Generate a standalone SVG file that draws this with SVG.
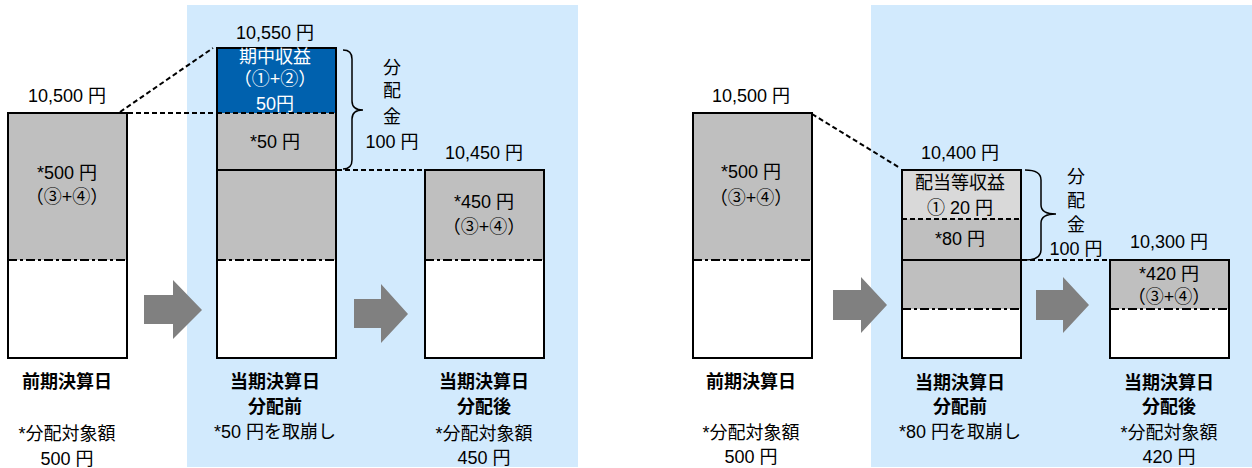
<svg xmlns="http://www.w3.org/2000/svg" width="1252" height="468" viewBox="0 0 1252 468">
<style>
text{font-family:"Liberation Sans","Noto Sans CJK JP",sans-serif;font-size:18px;fill:#000;text-anchor:middle}
.b{font-weight:bold}
.w{fill:#fff}
.ol{fill:none;stroke:#000;stroke-width:2}
.sl{stroke:#000;stroke-width:2}
.dd{stroke:#000;stroke-width:2;stroke-dasharray:9 3 3 3}
.ds{stroke:#000;stroke-width:2;stroke-dasharray:5 3;fill:none}
.gr{fill:#bfbfbf}
.lg{fill:#d9d9d9}
.bl{fill:#0061ae}
.wh{fill:#fff}
.ar{fill:#808080}
.br{fill:none;stroke:#000;stroke-width:1.5}
</style>
<rect x="187" y="5" width="391" height="462" fill="#d2eafd"/>
<rect x="871" y="5" width="381" height="462" fill="#d2eafd"/>

<g id="box1">
<rect x="8" y="113" width="119" height="147" class="gr"/>
<rect x="8" y="260" width="119" height="98" class="wh"/>
<line x1="8" y1="260" x2="127" y2="260" class="dd"/>
<rect x="8" y="113" width="119" height="245" class="ol"/>
<text x="67" y="102">10,500 円</text>
<text x="67" y="179">*500 円</text>
<text x="67" y="203">（③+④）</text>
<text x="67" y="388" class="b">前期決算日</text>
<text x="67" y="440">*分配対象額</text>
<text x="67" y="465">500 円</text>
</g>

<g id="box2">
<rect x="217" y="48" width="119" height="65" class="bl"/>
<rect x="217" y="113" width="119" height="147" class="gr"/>
<rect x="217" y="260" width="119" height="98" class="wh"/>
<line x1="217" y1="113" x2="336" y2="113" class="ds"/>
<line x1="217" y1="170" x2="336" y2="170" class="sl"/>
<line x1="217" y1="260" x2="336" y2="260" class="dd"/>
<rect x="217" y="48" width="119" height="310" class="ol"/>
<text x="275" y="39">10,550 円</text>
<text x="275" y="63" class="w">期中収益</text>
<text x="275" y="85" class="w">（①+②）</text>
<text x="275" y="110" class="w">50円</text>
<text x="275" y="148">*50 円</text>
<text x="275" y="388" class="b">当期決算日</text>
<text x="275" y="413" class="b">分配前</text>
<text x="275" y="438">*50 円を取崩し</text>
</g>

<g id="box3">
<rect x="425" y="170" width="119" height="90" class="gr"/>
<rect x="425" y="260" width="119" height="98" class="wh"/>
<line x1="425" y1="260" x2="544" y2="260" class="dd"/>
<rect x="425" y="170" width="119" height="188" class="ol"/>
<text x="484" y="159">10,450 円</text>
<text x="484" y="208">*450 円</text>
<text x="484" y="233">（③+④）</text>
<text x="484" y="388" class="b">当期決算日</text>
<text x="484" y="413" class="b">分配後</text>
<text x="484" y="440">*分配対象額</text>
<text x="484" y="464">450 円</text>
</g>

<g id="dist1">
<text x="392" y="74">分</text>
<text x="392" y="97">配</text>
<text x="392" y="123">金</text>
<text x="392" y="148">100 円</text>
</g>

<g id="box4">
<rect x="693" y="113" width="119" height="147" class="gr"/>
<rect x="693" y="260" width="119" height="98" class="wh"/>
<line x1="693" y1="260" x2="812" y2="260" class="dd"/>
<rect x="693" y="113" width="119" height="245" class="ol"/>
<text x="751" y="102">10,500 円</text>
<text x="751" y="178">*500 円</text>
<text x="751" y="204">（③+④）</text>
<text x="751" y="388" class="b">前期決算日</text>
<text x="751" y="439">*分配対象額</text>
<text x="751" y="463">500 円</text>
</g>

<g id="box5">
<rect x="902" y="170" width="119" height="49" class="lg"/>
<rect x="902" y="219" width="119" height="90" class="gr"/>
<rect x="902" y="309" width="119" height="49" class="wh"/>
<line x1="902" y1="219" x2="1021" y2="219" class="ds"/>
<line x1="902" y1="260" x2="1021" y2="260" class="sl"/>
<line x1="902" y1="309" x2="1021" y2="309" class="dd"/>
<rect x="902" y="170" width="119" height="188" class="ol"/>
<text x="960" y="159">10,400 円</text>
<text x="960" y="189">配当等収益</text>
<text x="960" y="214">① 20 円</text>
<text x="960" y="245">*80 円</text>
<text x="960" y="389" class="b">当期決算日</text>
<text x="960" y="413" class="b">分配前</text>
<text x="960" y="438">*80 円を取崩し</text>
</g>

<g id="box6">
<rect x="1110" y="260" width="119" height="49" class="gr"/>
<rect x="1110" y="309" width="119" height="49" class="wh"/>
<line x1="1110" y1="309" x2="1229" y2="309" class="dd"/>
<rect x="1110" y="260" width="119" height="98" class="ol"/>
<text x="1169" y="248">10,300 円</text>
<text x="1169" y="280">*420 円</text>
<text x="1169" y="303">（③+④）</text>
<text x="1169" y="389" class="b">当期決算日</text>
<text x="1169" y="413" class="b">分配後</text>
<text x="1169" y="439">*分配対象額</text>
<text x="1169" y="463">420 円</text>
</g>

<g id="dist2">
<text x="1076" y="183">分</text>
<text x="1076" y="207">配</text>
<text x="1076" y="231">金</text>
<text x="1076" y="255">100 円</text>
</g>

<g id="connectors">
<line x1="120" y1="112" x2="213" y2="48" class="ds"/>
<line x1="128" y1="113" x2="217" y2="113" class="ds"/>
<line x1="337" y1="170" x2="425" y2="170" class="ds"/>
<line x1="812" y1="114" x2="900" y2="168" class="ds"/>
<line x1="1022" y1="260" x2="1110" y2="260" class="ds"/>
<path d="M343,50 Q352,50 352,59 L352,101 Q352,110 363,110 Q352,110 352,119 L352,160 Q352,169 343,169" class="br"/>
<path d="M1025,170 Q1041,170 1041,180 L1041,205 Q1041,214 1056,214 Q1041,214 1041,223 L1041,250 Q1041,260 1025,260" class="br"/>
<polygon points="144,295 173,295 173,280 202,310 173,339 173,324 144,324" class="ar"/>
<polygon points="354,299 381,299 381,284 408,314 381,343 381,328 354,328" class="ar"/>
<polygon points="833,290 861,290 861,277 887,305 861,333 861,320 833,320" class="ar"/>
<polygon points="1036,290 1063,290 1063,277 1089,305 1063,333 1063,320 1036,320" class="ar"/>
</g>
</svg>
